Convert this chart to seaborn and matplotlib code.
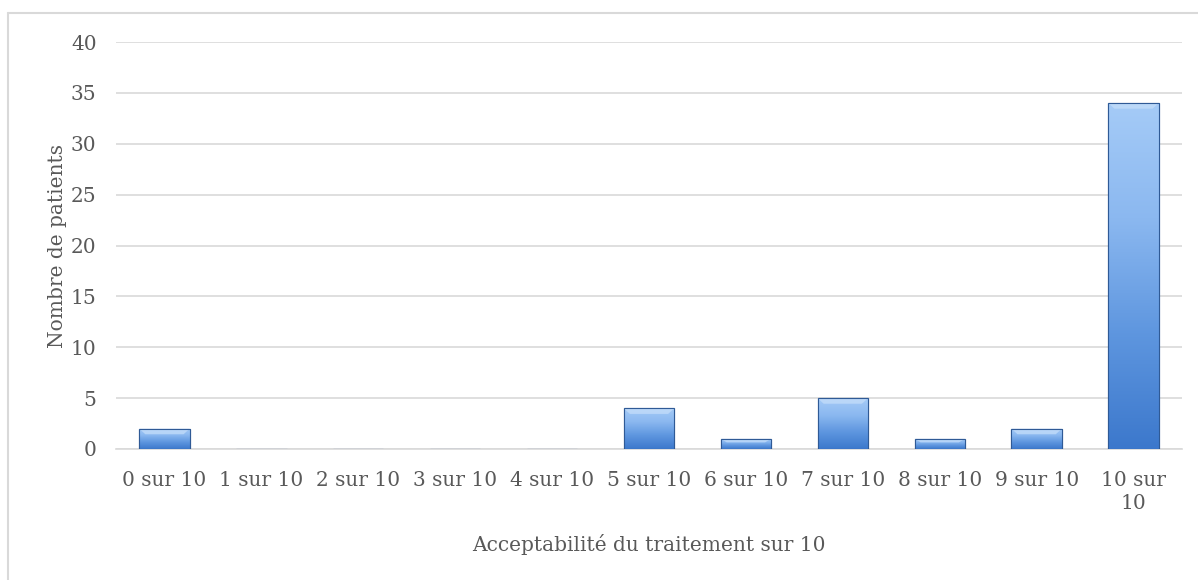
import numpy as np
import pandas as pd
import matplotlib
matplotlib.use("Agg")
import matplotlib.pyplot as plt
import seaborn as sns
from matplotlib.colors import LinearSegmentedColormap
from matplotlib.lines import Line2D

categories = ["0 sur 10", "1 sur 10", "2 sur 10", "3 sur 10", "4 sur 10", "5 sur 10",
              "6 sur 10", "7 sur 10", "8 sur 10", "9 sur 10", "10 sur\n10"]
patients = [2, 0, 0, 0, 0, 4, 1, 5, 1, 2, 34]
y_ticks = [0, 5, 10, 15, 20, 25, 30, 35, 40]

sns.set_theme(style="white")
plt.rcParams["font.family"] = ["DejaVu Serif"]
text_color = "#595959"
grid_color = "#D9D9D9"
fs = 14.5

df = pd.DataFrame({"cat": categories, "n": patients})

fig = plt.figure(figsize=(11.98, 5.8), dpi=100)
ax = fig.add_axes([116 / 1198, 1 - 449 / 580, (1182 - 116) / 1198, (449 - 42) / 580])

sns.barplot(data=df, x="cat", y="n", ax=ax, color="#5B8FD6", width=0.52,
            edgecolor="#2F5A96", linewidth=0.8, zorder=3)

ax.set_ylim(0, 40)
ax.set_xlim(-0.5, len(categories) - 0.5)
ax.set_yticks(y_ticks)
ax.yaxis.grid(True, color=grid_color, linewidth=1.2, zorder=0)
ax.set_axisbelow(True)
for s in ["top", "right", "left"]:
    ax.spines[s].set_visible(False)
ax.spines["bottom"].set_color(grid_color)
ax.spines["bottom"].set_linewidth(1.2)
ax.tick_params(axis="both", length=0, colors=text_color, labelsize=fs)
ax.tick_params(axis="y", pad=14)
ax.tick_params(axis="x", pad=16)
for lab in ax.get_xticklabels():
    lab.set_linespacing(1.25)

ax.set_xlabel("Acceptabilité du traitement sur 10", color=text_color, fontsize=fs, labelpad=15)
ax.set_ylabel("Nombre de patients", color=text_color, fontsize=fs, labelpad=3)

# gradient / bevel fill clipped to each bar
cmap = LinearSegmentedColormap.from_list("bev", ["#3C78CC", "#5E96DF", "#8BB8F0", "#A5CBF7"])
grad = np.linspace(0, 1, 256).reshape(-1, 1)
for p in ax.patches:
    x0, y0 = p.get_x(), p.get_y()
    w, h = p.get_width(), p.get_height()
    if h <= 0:
        continue
    im = ax.imshow(grad, cmap=cmap, aspect="auto", origin="lower",
                   extent=(x0, x0 + w, y0, y0 + h), zorder=3.5, interpolation="bicubic")
    im.set_clip_path(p)
    bev = min(0.55, h * 0.35)
    ax.fill([x0, x0 + w, x0 + w * 0.88, x0 + w * 0.12],
            [y0 + h, y0 + h, y0 + h - bev, y0 + h - bev],
            color="#C4DDFA", alpha=0.75, zorder=3.6, linewidth=0)
    ax.add_patch(plt.Rectangle((x0, y0), w, h, fill=False, edgecolor="#2F5A96",
                               linewidth=0.8, zorder=3.7))

ax.set_xlim(-0.5, len(categories) - 0.5)
ax.set_ylim(0, 40)

fig.add_artist(Line2D([8 / 1198, 8 / 1198], [0, 1 - 13 / 580], color=grid_color, lw=1.5))
fig.add_artist(Line2D([8 / 1198, 1], [1 - 13 / 580, 1 - 13 / 580], color=grid_color, lw=1.5))

fig.savefig("out.png", dpi=100)
